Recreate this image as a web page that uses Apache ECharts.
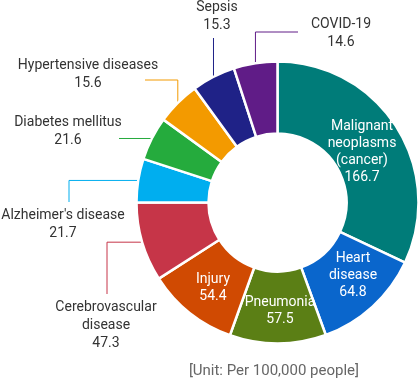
<!DOCTYPE html>
<html>
<head>
<meta charset="utf-8">
<script src="https://cdn.jsdelivr.net/npm/echarts@6/dist/echarts.min.js"></script>
<style>
html,body{margin:0;padding:0;background:#fff;}
#chart{width:418px;height:385px;}
</style>
</head>
<body>
<div id="chart"></div>
<script>
const categories = ['Malignant\nneoplasms\n(cancer)', 'Heart\ndisease', 'Pneumonia', 'Injury', 'Cerebrovascular\ndisease', "Alzheimer's disease", 'Diabetes mellitus', 'Hypertensive diseases', 'Sepsis', 'COVID-19'];
const values = [166.7, 64.8, 57.5, 54.4, 47.3, 21.7, 21.6, 15.6, 15.3, 14.6];
const colors = ['#007C79', '#0A66CC', '#5B7F15', '#D04A02', '#C63548', '#00AEEF', '#25AB3D', '#F39A00', '#1F2287', '#601C87'];
const unitText = '[Unit: Per 100,000 people]';
const insideCount = 4;

// label placement (layout/styling only)
const insideLayout = {
  0: {lx: 362, ly: 152},
  1: {lx: 353, ly: 275},
  2: {lx: 280, ly: 311},
  3: {lx: 213, ly: 288}
};
const outsideLayout = {
  4: {mode: 'hv', tx: 107, ty: 294, lx: 106, ly: 298},
  5: {mode: 'hv', tx: 69, ty: 202, lx: 63, ly: 206},
  6: {mode: 'h', tx: 119, lx: 68, ly: 113},
  7: {mode: 'vh', tx: 145, ty: 80, lx: 88, ly: 56},
  8: {mode: 'v', ty: 38, lx: 217, ly: -2},
  9: {mode: 'vh', tx: 298, ty: 32, lx: 341, ly: 15}
};

const FONT = 'Roboto';
const data = categories.map((name, i) => {
  const inside = i < insideCount;
  return {
    name: name,
    value: values[i],
    itemStyle: {color: colors[i]},
    label: inside ? {
      position: 'inside', color: '#fff', fontSize: 14, lineHeight: 17, fontFamily: FONT, overflow: 'none'
    } : {
      position: 'outside', color: '#333', fontSize: 14, lineHeight: 18, fontFamily: FONT, overflow: 'none'
    },
    labelLine: {
      show: !inside, length: 10, length2: 10, smooth: false,
      lineStyle: {color: colors[i], width: 1}
    }
  };
});

const chart = echarts.init(document.getElementById('chart'), null, {renderer: 'canvas'});
chart.setOption({
  animation: false,
  backgroundColor: '#fff',
  title: {
    text: unitText, right: 54, bottom: 1,
    textStyle: {fontSize: 15, fontWeight: 'normal', color: '#666', fontFamily: FONT}
  },
  series: [{
    type: 'pie',
    center: [277.5, 202.5],
    radius: [69, 141],
    startAngle: 90,
    clockwise: true,
    minAngle: 18,
    avoidLabelOverlap: false,
    silent: true,
    itemStyle: {borderColor: '#fff', borderWidth: 2.5},
    label: {formatter: '{b}\n{c}'},
    labelLayout: function (p) {
      const ins = insideLayout[p.dataIndex];
      if (ins) return {x: ins.lx, y: ins.ly, align: 'center', verticalAlign: 'middle'};
      const cfg = outsideLayout[p.dataIndex];
      if (!cfg || !p.labelLinePoints) return {};
      const p0 = p.labelLinePoints[0];
      let pts;
      if (cfg.mode === 'hv') pts = [p0, [cfg.tx, p0[1]], [cfg.tx, cfg.ty]];
      else if (cfg.mode === 'vh') pts = [p0, [p0[0], cfg.ty], [cfg.tx, cfg.ty]];
      else if (cfg.mode === 'h') pts = [p0, [cfg.tx, p0[1]], [cfg.tx, p0[1]]];
      else pts = [p0, [p0[0], cfg.ty], [p0[0], cfg.ty]];
      return {x: cfg.lx, y: cfg.ly, align: 'center', verticalAlign: 'top', labelLinePoints: pts};
    },
    data: data
  }]
});
</script>
</body>
</html>
